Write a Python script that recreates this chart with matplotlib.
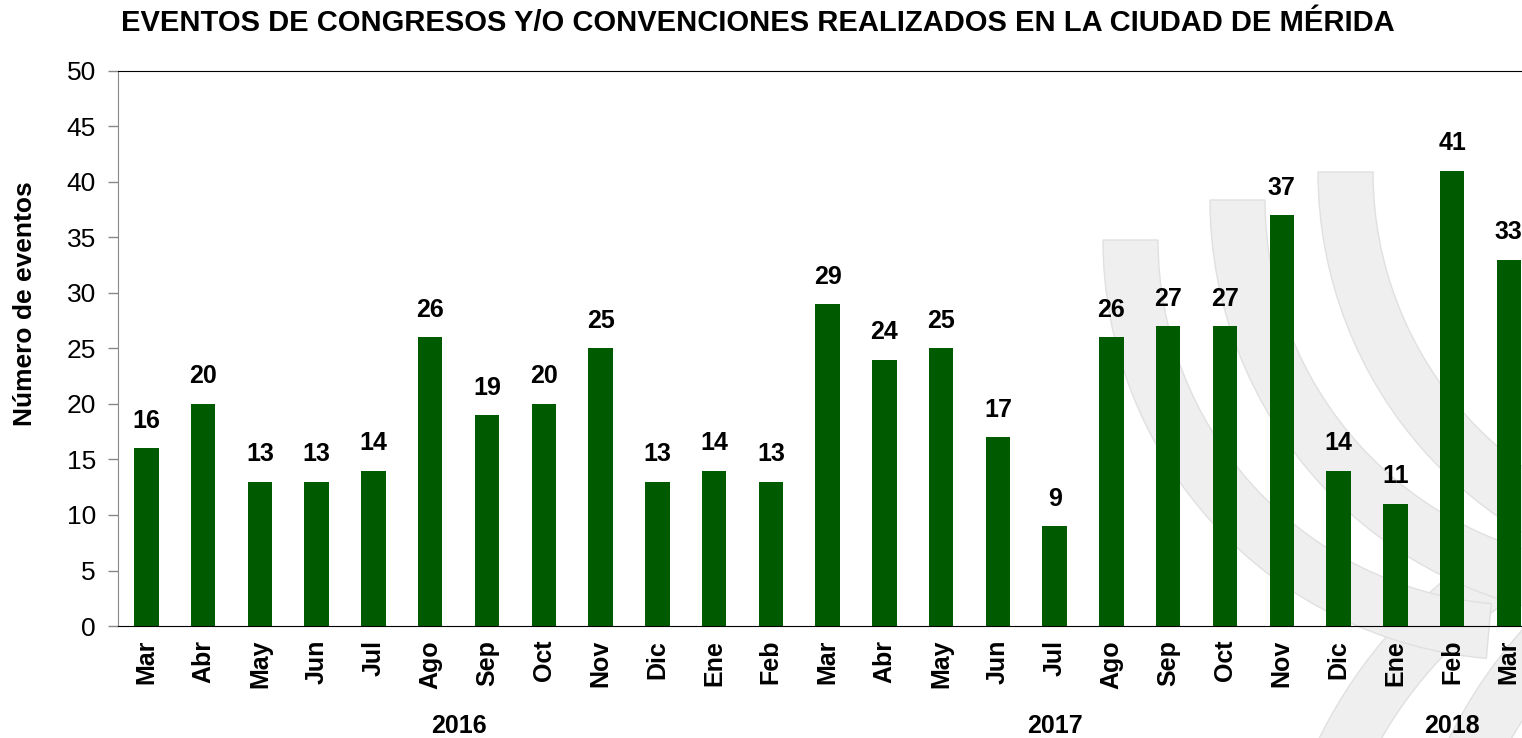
import matplotlib.pyplot as plt
from matplotlib.patches import Wedge

meses = ["Mar", "Abr", "May", "Jun", "Jul", "Ago", "Sep", "Oct", "Nov", "Dic", "Ene", "Feb",
         "Mar", "Abr", "May", "Jun", "Jul", "Ago", "Sep", "Oct", "Nov", "Dic", "Ene", "Feb", "Mar"]
eventos = [16, 20, 13, 13, 14, 26, 19, 20, 25, 13, 14, 13,
           29, 24, 25, 17, 9, 26, 27, 27, 37, 14, 11, 41, 33]
anios = ["2016", "2017", "2018"]
anio_pos = [5.5, 16, 23]

plt.rcParams['font.family'] = ['Liberation Sans', 'DejaVu Sans']

W, H = 1522, 738
fig = plt.figure(figsize=(W / 100, H / 100), dpi=100)

# watermark layer in pixel coords (y down)
bg = fig.add_axes([0, 0, 1, 1], zorder=0)
bg.set_xlim(0, W)
bg.set_ylim(H, 0)
bg.axis('off')
gris = '#efefef'
borde = '#e0e0e0'
for cx in [1750, 1880]:
    bg.add_patch(Wedge((cx, 950), 480, 190, 250, width=55,
                       facecolor=gris, edgecolor=borde, lw=1))
for x0, y0 in [(1103, 240), (1210, 200), (1318, 172)]:
    r = 420
    bg.add_patch(Wedge((x0 + r, y0), r, 95, 180, width=55,
                       facecolor=gris, edgecolor=borde, lw=1))

ax = fig.add_axes([118 / W, 1 - 626 / H, 1 - 118 / W + 0.01, (626 - 71) / H], zorder=1)
ax.patch.set_alpha(0)

x = range(len(eventos))
ax.bar(x, eventos, width=0.43, color='#005a00', zorder=2)
for xi, v in zip(x, eventos):
    ax.text(xi, v + 1.4, str(v), ha='center', va='bottom', fontsize=18, fontweight='bold')

ax.set_xlim(-0.5, 24.5)
ax.set_ylim(0, 50)
ax.set_yticks(range(0, 51, 5))
ax.tick_params(axis='y', labelsize=19, length=7, width=1, color='#888888', pad=9)
ax.set_xticks(list(x))
ax.set_xticklabels(meses, rotation=90, fontsize=18, fontweight='bold')
ax.tick_params(axis='x', length=0, pad=10)

ax.spines['left'].set_color('#888888')
ax.spines['bottom'].set_color('black')
ax.spines['top'].set_color('black')
ax.spines['right'].set_visible(False)

for lab, p in zip(anios, anio_pos):
    ax.text(p, -0.18, lab, transform=ax.get_xaxis_transform(), ha='center', va='center',
            fontsize=18, fontweight='bold')

fig.text(25 / W, 1 - 304 / H, "Número de eventos", rotation=90, ha='center', va='center',
         fontsize=19, fontweight='bold')
fig.text(758 / W, 1 - 23 / H, "EVENTOS DE CONGRESOS Y/O CONVENCIONES REALIZADOS EN LA CIUDAD DE MÉRIDA",
         ha='center', va='center', fontsize=21, fontweight='bold')

fig.savefig('out.png', dpi=100)
